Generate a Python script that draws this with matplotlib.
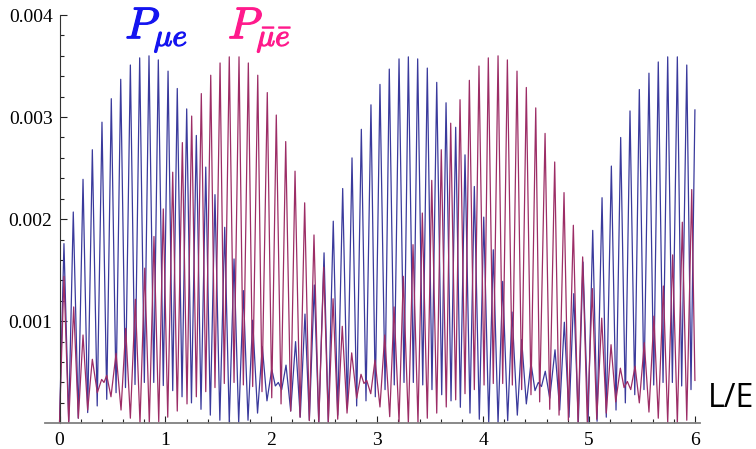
import numpy as np
import matplotlib.pyplot as plt
import matplotlib.patheffects as pe
from matplotlib.ticker import FixedLocator

plt.rcParams['mathtext.fontset'] = 'cm'

# P(mu -> e), vertices (x = L/E, y in units of 1e-3)
x_mue = [0.000, 0.042, 0.087, 0.130, 0.177, 0.222, 0.266, 0.310, 0.356, 0.401,
         0.446, 0.489, 0.534, 0.578, 0.623, 0.669, 0.713, 0.757, 0.801, 0.845,
         0.890, 0.933, 0.980, 1.025, 1.069, 1.112, 1.157, 1.201, 1.246, 1.292,
         1.336, 1.381, 1.424, 1.468, 1.514, 1.560, 1.603, 1.648, 1.692, 1.736,
         1.780, 1.824, 1.870, 1.915, 1.959, 2.004, 2.038, 2.066, 2.098, 2.139,
         2.183, 2.229, 2.273, 2.318, 2.359, 2.406, 2.448, 2.498, 2.538, 2.585,
         2.627, 2.674, 2.718, 2.762, 2.806, 2.850, 2.894, 2.941, 2.982, 3.026,
         3.074, 3.114, 3.161, 3.206, 3.253, 3.294, 3.341, 3.382, 3.430, 3.473,
         3.517, 3.562, 3.609, 3.650, 3.697, 3.741, 3.785, 3.829, 3.876, 3.917,
         3.964, 4.006, 4.053, 4.096, 4.141, 4.185, 4.232, 4.273, 4.323, 4.364,
         4.408, 4.452, 4.490, 4.521, 4.551, 4.587, 4.629, 4.679, 4.723, 4.767,
         4.811, 4.856, 4.899, 4.943, 4.991, 5.035, 5.076, 5.123, 5.163, 5.211,
         5.255, 5.299, 5.343, 5.387, 5.432, 5.475, 5.519, 5.566, 5.611, 5.654,
         5.699, 5.743, 5.787, 5.834, 5.875, 5.923, 5.963, 6.000]
p_mue = [0.00, 1.76, 0.02, 2.07, 0.05, 2.39, 0.105, 2.68, 0.17, 2.95,
         0.235, 3.18, 0.30, 3.37, 0.35, 3.51, 0.38, 3.58, 0.40, 3.60,
         0.40, 3.56, 0.37, 3.45, 0.32, 3.28, 0.26, 3.08, 0.20, 2.82,
         0.137, 2.51, 0.08, 2.24, 0.03, 1.92, 0.01, 1.61, 0.005, 1.30,
         0.03, 1.01, 0.10, 0.75, 0.22, 0.53, 0.366, 0.40, 0.33, 0.57,
         0.12, 0.80, 0.06, 1.07, 0.03, 1.355, 0.006, 1.67, 0.016, 1.98,
         0.08, 2.30, 0.15, 2.60, 0.17, 2.88, 0.22, 3.12, 0.26, 3.32,
         0.33, 3.47, 0.376, 3.57, 0.40, 3.59, 0.40, 3.57, 0.376, 3.48,
         0.33, 3.34, 0.28, 3.14, 0.22, 2.90, 0.157, 2.63, 0.10, 2.32,
         0.04, 2.02, 0.007, 1.70, 0.00, 1.39, 0.026, 1.09, 0.08, 0.82,
         0.19, 0.59, 0.32, 0.40, 0.36, 0.51, 0.245, 0.72, 0.13, 0.99,
         0.06, 1.27, 0.01, 1.58, 0.00, 1.89, 0.02, 2.21, 0.06, 2.52,
         0.13, 2.80, 0.20, 3.06, 0.28, 3.27, 0.33, 3.43, 0.375, 3.54,
         0.40, 3.59, 0.40, 3.59, 0.366, 3.51, 0.33, 3.07]

# P(mubar -> ebar)
x_mue_bar = [0.000, 0.042, 0.087, 0.134, 0.178, 0.222, 0.266, 0.310, 0.357, 0.398,
             0.420, 0.446, 0.486, 0.534, 0.581, 0.625, 0.669, 0.716, 0.760, 0.805,
             0.848, 0.892, 0.937, 0.980, 1.022, 1.069, 1.112, 1.160, 1.204, 1.248,
             1.292, 1.339, 1.381, 1.428, 1.468, 1.516, 1.556, 1.603, 1.648, 1.695,
             1.736, 1.783, 1.824, 1.872, 1.912, 1.962, 2.004, 2.047, 2.092, 2.136,
             2.183, 2.224, 2.271, 2.315, 2.359, 2.403, 2.448, 2.495, 2.538, 2.583,
             2.627, 2.670, 2.715, 2.759, 2.806, 2.847, 2.875, 2.901, 2.939, 2.979,
             3.026, 3.071, 3.118, 3.159, 3.206, 3.246, 3.294, 3.338, 3.385, 3.426,
             3.473, 3.515, 3.562, 3.605, 3.652, 3.694, 3.741, 3.782, 3.829, 3.870,
             3.917, 3.961, 4.009, 4.049, 4.096, 4.141, 4.185, 4.229, 4.276, 4.320,
             4.364, 4.408, 4.452, 4.497, 4.534, 4.585, 4.629, 4.676, 4.717, 4.764,
             4.805, 4.852, 4.896, 4.940, 4.984, 5.031, 5.073, 5.120, 5.163, 5.208,
             5.252, 5.296, 5.331, 5.362, 5.394, 5.435, 5.475, 5.522, 5.566, 5.613,
             5.654, 5.702, 5.743, 5.790, 5.834, 5.881, 5.923, 5.970, 6.000]
p_mue_bar = [0.00, 1.44, 0.00, 1.14, 0.05, 0.865, 0.13, 0.627, 0.30, 0.43,
             0.40, 0.47, 0.26, 0.686, 0.13, 0.93, 0.05, 1.215, 0.00, 1.52,
             0.00, 1.83, 0.016, 2.10, 0.06, 2.46, 0.12, 2.75, 0.19, 3.01,
             0.26, 3.23, 0.31, 3.41, 0.35, 3.53, 0.39, 3.59, 0.40, 3.59,
             0.376, 3.53, 0.36, 3.41, 0.31, 3.24, 0.25, 3.02, 0.19, 2.76,
             0.12, 2.47, 0.06, 2.16, 0.026, 1.845, 0.00, 1.53, 0.005, 1.22,
             0.04, 0.95, 0.10, 0.69, 0.245, 0.48, 0.39, 0.42, 0.29, 0.62,
             0.16, 0.865, 0.065, 1.14, 0.016, 1.44, 0.00, 1.75, 0.006, 2.06,
             0.05, 2.38, 0.10, 2.68, 0.16, 2.94, 0.23, 3.17, 0.29, 3.36,
             0.33, 3.50, 0.375, 3.58, 0.39, 3.60, 0.39, 3.56, 0.375, 3.45,
             0.33, 3.29, 0.28, 3.09, 0.21, 2.84, 0.137, 2.56, 0.08, 2.26,
             0.03, 1.94, 0.00, 1.63, 0.00, 1.32, 0.04, 1.03, 0.10, 0.77,
             0.21, 0.54, 0.35, 0.41, 0.33, 0.56, 0.20, 0.79, 0.11, 1.05,
             0.05, 1.345, 0.006, 1.65, 0.00, 1.97, 0.03, 2.29, 0.42]

x_ticks = [0, 1, 2, 3, 4, 5, 6]
y_ticks = [0.001, 0.002, 0.003, 0.004]
y_tick_labels = ["0.001", "0.002", "0.003", "0.004"]

fig = plt.figure(figsize=(7.56, 4.49), dpi=100)
ax = fig.add_axes([45 / 756, 1 - 423.3 / 449, 655 / 756, 408.3 / 449])

ax.plot(x_mue, np.array(p_mue) * 1e-3, color='#3a3a9c', lw=0.9)
ax.plot(x_mue_bar, np.array(p_mue_bar) * 1e-3, color='#9c2d66', lw=0.9)

ax.set_xlim(-0.137, 6.048)
ax.set_ylim(0, 0.004)

ax.spines['top'].set_visible(False)
ax.spines['right'].set_visible(False)
ax.spines['left'].set_position(('data', 0))
ax.spines['left'].set_color('#333333')
ax.spines['bottom'].set_color('#808080')
ax.spines['bottom'].set_linewidth(1.3)

ax.set_xticks(x_ticks)
ax.set_xticklabels([str(t) for t in x_ticks])
ax.xaxis.set_minor_locator(FixedLocator(np.arange(0.2, 6.01, 0.2)))
ax.set_yticks(y_ticks)
ax.set_yticklabels(y_tick_labels)
ax.yaxis.set_minor_locator(FixedLocator(np.arange(0.0002, 0.0040, 0.0002)))

for lab in ax.get_xticklabels() + ax.get_yticklabels():
    lab.set_family('Liberation Serif')
    lab.set_fontsize(14)

ax.tick_params(which='major', direction='in', length=5, width=0.8, color='#222222')
ax.tick_params(which='minor', direction='in', length=3, width=0.8, color='#222222')
ax.tick_params(axis='y', pad=5)
ax.tick_params(axis='x', pad=6)

blue_lab = '#1414f0'
pink_lab = '#ff1a8c'
t1 = ax.text(0.62, 0.00377, r'$P_{\mu e}$', color=blue_lab, fontsize=32,
             ha='left', va='baseline')
t1.set_path_effects([pe.withStroke(linewidth=0.9, foreground=blue_lab)])
t2 = ax.text(1.59, 0.00377, r'$P_{\bar{\mu}\bar{e}}$', color=pink_lab, fontsize=32,
             ha='left', va='baseline')
t2.set_path_effects([pe.withStroke(linewidth=0.9, foreground=pink_lab)])

fig.text(708 / 756, 1 - 406.7 / 449, 'L/E', family='Open Sans', fontsize=23,
         ha='left', va='baseline')

fig.savefig('out.png', dpi=100)
